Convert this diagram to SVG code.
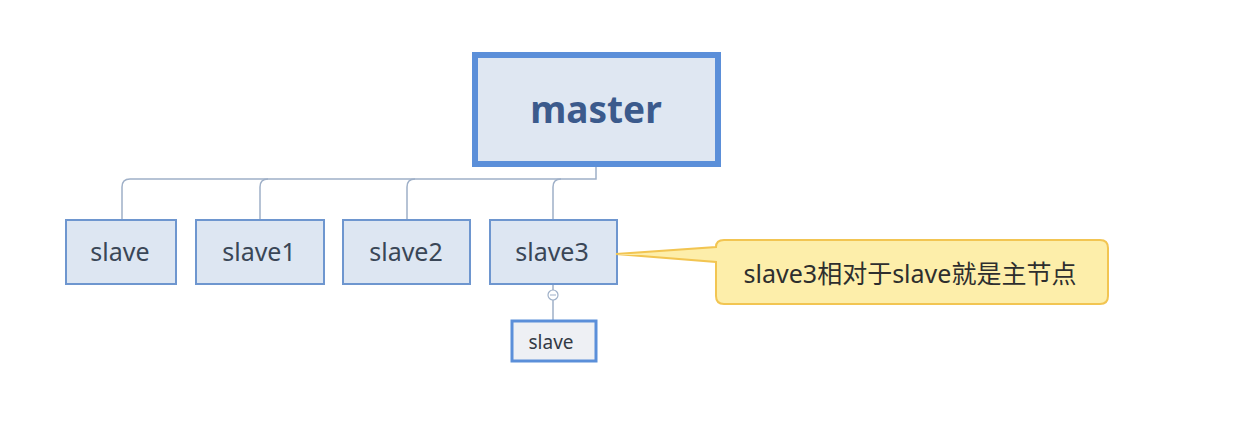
<svg xmlns="http://www.w3.org/2000/svg" width="1260" height="442" viewBox="0 0 1260 442">
<style>
text{font-family:"Noto Sans","Noto Sans CJK SC",sans-serif;text-anchor:middle}
.sl rect{fill:#dde6f2;stroke:#6e96cf;stroke-width:2}
.sl text{font-size:25px;fill:#3a4657}
.conn{fill:none;stroke:#9fb0c8;stroke-width:1.5}
</style>
<rect width="1260" height="442" fill="#ffffff"/>
<g id="connectors">
<path class="conn" d="M596 166 V179 H130 Q122 179 122 187 V219"/>
<path class="conn" d="M268 179 Q260 179 260 187 V219"/>
<path class="conn" d="M415 179 Q407 179 407 187 V219"/>
<path class="conn" d="M561 179 Q553 179 553 187 V219"/>
<path class="conn" d="M553 285 V290 M553 300 V320"/>
<circle cx="553" cy="295" r="5" fill="#ffffff" stroke="#9fb0c8" stroke-width="1.2"/>
<line x1="550" y1="295" x2="556" y2="295" stroke="#9fb0c8" stroke-width="1"/>
</g>
<g id="master">
<rect x="475" y="55" width="243" height="109" fill="#dfe7f2" stroke="#5b8fd9" stroke-width="6"/>
<text x="596" y="123" font-size="37" font-weight="bold" fill="#3b5a8c">master</text>
</g>
<g id="slave" class="sl">
<rect x="66" y="220" width="110" height="64"/>
<text x="120" y="261">slave</text>
</g>
<g id="slave1" class="sl">
<rect x="196" y="220" width="128" height="64"/>
<text x="259" y="261">slave1</text>
</g>
<g id="slave2" class="sl">
<rect x="343" y="220" width="127" height="64"/>
<text x="406" y="261">slave2</text>
</g>
<g id="slave3" class="sl">
<rect x="490" y="220" width="127" height="64"/>
<text x="552" y="261">slave3</text>
</g>
<g id="slave-child">
<rect x="512" y="321" width="84" height="40" fill="#eef0f4" stroke="#5b8fd9" stroke-width="3"/>
<text x="551" y="349" font-size="19" fill="#333a45">slave</text>
</g>
<g id="callout">
<path d="M724 240 H1100 Q1108 240 1108 248 V296 Q1108 304 1100 304 H724 Q716 304 716 296 V262 L616 254 L716 247 Q716 240 724 240 Z" fill="#fdeeaa" stroke="#f2c552" stroke-width="2"/>
<text x="910" y="283" font-size="25" fill="#2e2e2e">slave3相对于slave就是主节点</text>
</g>
</svg>
